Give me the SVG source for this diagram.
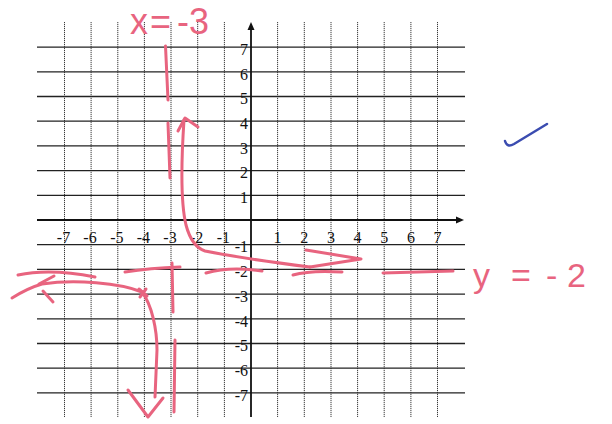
<svg xmlns="http://www.w3.org/2000/svg" width="612" height="424" viewBox="0 0 612 424">
<defs>
<style>
.vg{stroke:#3a3a3a;stroke-width:1;stroke-dasharray:1.2 0.8;fill:none}
.hg{stroke:#222;stroke-width:1.3;fill:none}
.ax{stroke:#111;stroke-width:1.8;fill:none}
.lb{font-family:"Liberation Serif","Times New Roman",serif;font-size:16px;fill:#111}
.xl{text-anchor:middle}
.yl{text-anchor:end}
.pk{stroke:#e8647f;stroke-width:3;fill:none;stroke-linecap:round;stroke-linejoin:round}
.pt{font-family:"Liberation Sans",Arial,sans-serif;fill:#e8647f}
</style>
</defs>
<rect width="612" height="424" fill="#fff"/>
<g id="grid">
<g class="vg">
<line x1="64.5" y1="22" x2="64.5" y2="417"/>
<line x1="91.1" y1="22" x2="91.1" y2="417"/>
<line x1="117.8" y1="22" x2="117.8" y2="417"/>
<line x1="144.4" y1="22" x2="144.4" y2="417"/>
<line x1="171" y1="22" x2="171" y2="417"/>
<line x1="197.7" y1="22" x2="197.7" y2="417"/>
<line x1="224.4" y1="22" x2="224.4" y2="417"/>
<line x1="277.6" y1="22" x2="277.6" y2="417"/>
<line x1="304.3" y1="22" x2="304.3" y2="417"/>
<line x1="331" y1="22" x2="331" y2="417"/>
<line x1="357.6" y1="22" x2="357.6" y2="417"/>
<line x1="384.2" y1="22" x2="384.2" y2="417"/>
<line x1="410.9" y1="22" x2="410.9" y2="417"/>
<line x1="437.5" y1="22" x2="437.5" y2="417"/>
</g>
<g class="hg">
<line x1="37" y1="47.1" x2="465" y2="47.1"/>
<line x1="37" y1="71.8" x2="465" y2="71.8"/>
<line x1="37" y1="96.5" x2="465" y2="96.5"/>
<line x1="37" y1="121.2" x2="465" y2="121.2"/>
<line x1="37" y1="145.9" x2="465" y2="145.9"/>
<line x1="37" y1="170.6" x2="465" y2="170.6"/>
<line x1="37" y1="195.3" x2="465" y2="195.3"/>
<line x1="37" y1="244.7" x2="465" y2="244.7"/>
<line x1="37" y1="269.4" x2="465" y2="269.4"/>
<line x1="37" y1="294.1" x2="465" y2="294.1"/>
<line x1="37" y1="318.8" x2="465" y2="318.8"/>
<line x1="37" y1="343.5" x2="465" y2="343.5"/>
<line x1="37" y1="368.2" x2="465" y2="368.2"/>
<line x1="37" y1="392.9" x2="465" y2="392.9"/>
</g>
</g>
<g id="axes">
<line class="ax" x1="37" y1="220" x2="458" y2="220"/>
<path d="M464 220 L456 216.5 L456 223.5 Z" fill="#111"/>
<line class="ax" x1="251" y1="417" x2="251" y2="28"/>
<path d="M251 22 L247.5 30 L254.5 30 Z" fill="#111"/>
</g>
<g id="x-labels" class="lb xl">
<text x="63.5" y="243">-7</text>
<text x="90" y="243">-6</text>
<text x="116.8" y="243">-5</text>
<text x="143.4" y="243">-4</text>
<text x="170" y="243">-3</text>
<text x="196.7" y="243">-2</text>
<text x="223.4" y="243">-1</text>
<text x="277.6" y="243">1</text>
<text x="304.3" y="243">2</text>
<text x="331" y="243">3</text>
<text x="357.6" y="243">4</text>
<text x="384.2" y="243">5</text>
<text x="410.9" y="243">6</text>
<text x="437.5" y="243">7</text>
</g>
<g id="y-labels" class="lb yl">
<text x="248" y="55">7</text>
<text x="248" y="79.5">6</text>
<text x="248" y="104.2">5</text>
<text x="248" y="128.9">4</text>
<text x="248" y="153.6">3</text>
<text x="248" y="178.3">2</text>
<text x="248" y="203">1</text>
<text x="248" y="252.4">-1</text>
<text x="248" y="277.1">-2</text>
<text x="248" y="301.8">-3</text>
<text x="248" y="326.5">-4</text>
<text x="248" y="351.2">-5</text>
<text x="248" y="375.9">-6</text>
<text x="248" y="400.6">-7</text>
</g>
<g id="asymptote-x">
<path class="pk" d="M165.5 46 L168 100"/>
<path class="pk" d="M168 123 L170 178"/>
<path class="pk" d="M172 263 L173 312"/>
<path class="pk" d="M175 340 L174 412"/>
</g>
<g id="asymptote-y">
<path class="pk" d="M18 275 Q50 268 95 277"/>
<path class="pk" d="M125 272 Q150 268 180 267"/>
<path class="pk" d="M206 273 Q230 266 262 271"/>
<path class="pk" d="M293 275 Q310 270 342 272"/>
<path class="pk" d="M383 273 L453 271"/>
</g>
<g id="branch-left">
<path class="pk" d="M12 298 Q28 288 42 284 C75 279 120 283 142 292 C152 305 157 330 157 350 L155 397"/>
<path class="pk" d="M54 276 L39 284 M43 291 L53 302"/>
<path class="pk" d="M139 289 L147 296 M146 289 L140 297"/>
<path class="pk" d="M128 390 L148 417 L163 398"/>
</g>
<g id="branch-right">
<path class="pk" d="M184 120 C182 150 180 200 186 225 C190 240 196 248 205 251 C230 256 270 262 310 267"/>
<path class="pk" d="M178 131 L185 118 L198 127"/>
<path class="pk" d="M306 250 L361 259 L310 267"/>
</g>
<g id="labels-hand">
<text class="pt" x="130 150 177 189" y="34" font-size="36">x=-3</text>
<text class="pt" x="473 511 546 567" y="287" font-size="34">y=-2</text>
</g>
<g id="check">
<path d="M505 141 Q507 148 514 144 L547 124" fill="none" stroke="#3b4cb0" stroke-width="2.5" stroke-linecap="round"/>
</g>
</svg>
